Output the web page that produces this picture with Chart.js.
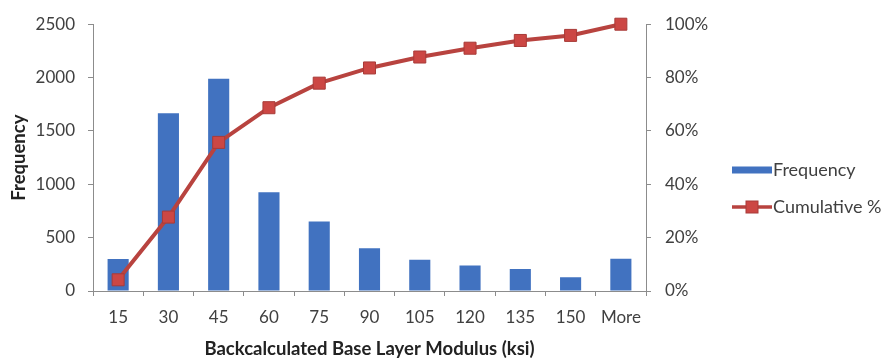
<!DOCTYPE html>
<html>
<head>
<meta charset="utf-8">
<script src="https://cdn.jsdelivr.net/npm/chart.js@4/dist/chart.umd.min.js"></script>
<style>
  html, body { margin: 0; padding: 0; background: #fff; }
  #wrap { width: 888px; height: 362px; position: relative; }
</style>
</head>
<body>
<div id="wrap"><canvas id="chart"></canvas></div>
<script>
// Histogram bins (ksi) and counts
const categories = ['15', '30', '45', '60', '75', '90', '105', '120', '135', '150', 'More'];
const frequency = [300, 1665, 1990, 925, 652, 401, 293, 238, 205, 130, 302];
// Cumulative share of observations, as a fraction
const cumulative = [0.042, 0.277, 0.557, 0.687, 0.779, 0.836, 0.877, 0.910, 0.939, 0.958, 1.0];
// Axis ticks
const freqTicks = [0, 500, 1000, 1500, 2000, 2500];
const pctTicks = [0, 0.2, 0.4, 0.6, 0.8, 1.0];

const FONT = 'Lato, "Open Sans", sans-serif';
const TEXT = '#404040';
const AXIS = '#8c8c8c';
const BAR = '#4172c0';
const LINE = '#b8433f';
const MARK = '#cc4744';
const MARK_EDGE = '#a83b38';

// Legend on the right-hand side: a bar swatch and a line-with-marker swatch
const sideLegend = {
  id: 'sideLegend',
  afterDraw(chart) {
    const ctx = chart.ctx;
    const x0 = chart.chartArea.right + 86;
    const sw = 40;
    ctx.save();
    ctx.font = '18px ' + FONT;
    ctx.textBaseline = 'middle';
    // Frequency
    let y = 170;
    ctx.fillStyle = BAR;
    ctx.fillRect(x0, y - 3.5, sw, 7);
    ctx.fillStyle = TEXT;
    ctx.fillText(chart.data.datasets[0].label, x0 + sw + 1, y);
    // Cumulative %
    y = 207;
    ctx.strokeStyle = LINE;
    ctx.lineWidth = 3.5;
    ctx.beginPath();
    ctx.moveTo(x0, y);
    ctx.lineTo(x0 + sw, y);
    ctx.stroke();
    ctx.fillStyle = MARK;
    ctx.strokeStyle = MARK_EDGE;
    ctx.lineWidth = 1;
    ctx.fillRect(x0 + sw / 2 - 6, y - 6, 12, 12);
    ctx.strokeRect(x0 + sw / 2 - 6, y - 6, 12, 12);
    ctx.fillStyle = TEXT;
    ctx.fillText(chart.data.datasets[1].label, x0 + sw + 1, y);
    ctx.restore();
  }
};

new Chart(document.getElementById('chart'), {
  data: {
    labels: categories,
    datasets: [
      {
        type: 'bar',
        label: 'Frequency',
        data: frequency,
        backgroundColor: BAR,
        borderWidth: 0,
        barPercentage: 0.42,
        categoryPercentage: 1.0,
        yAxisID: 'y',
        order: 2
      },
      {
        type: 'line',
        label: 'Cumulative %',
        data: cumulative,
        borderColor: LINE,
        borderWidth: 4,
        pointStyle: 'rect',
        pointRadius: 8.5,
        pointBackgroundColor: MARK,
        pointBorderColor: MARK_EDGE,
        pointBorderWidth: 1,
        tension: 0,
        clip: false,
        yAxisID: 'y1',
        order: 1
      }
    ]
  },
  options: {
    responsive: true,
    maintainAspectRatio: false,
    animation: false,
    events: [],
    layout: { padding: { top: 15, right: 160, bottom: 0, left: 0 } },
    plugins: {
      legend: { display: false },
      tooltip: { enabled: false }
    },
    scales: {
      x: {
        type: 'category',
        offset: true,
        grid: { offset: true, drawOnChartArea: false, drawTicks: true, tickLength: 5, color: AXIS },
        border: { display: true, color: AXIS, width: 1 },
        ticks: { color: TEXT, font: { family: FONT, size: 17 }, padding: 11, maxRotation: 0, autoSkip: false },
        title: {
          display: true,
          text: 'Backcalculated Base Layer Modulus (ksi)',
          color: '#222',
          font: { family: FONT, size: 18.5, weight: 'bold' },
          padding: { top: 0, bottom: 2 }
        },
        afterFit(scale) { scale.height = 71; }
      },
      y: {
        type: 'linear',
        position: 'left',
        min: 0,
        max: 2500,
        afterBuildTicks(scale) { scale.ticks = freqTicks.map(v => ({ value: v })); },
        grid: { drawOnChartArea: false, drawTicks: true, tickLength: 5, color: AXIS },
        border: { display: true, color: AXIS, width: 1 },
        ticks: { color: TEXT, font: { family: FONT, size: 17 }, padding: 13, callback: v => String(v) },
        title: {
          display: true,
          text: 'Frequency',
          color: '#222',
          font: { family: FONT, size: 18.5, weight: 'bold' },
          padding: { top: 8, bottom: 0 }
        },
        afterFit(scale) { scale.width = 93; }
      },
      y1: {
        type: 'linear',
        position: 'right',
        min: 0,
        max: 1,
        afterBuildTicks(scale) { scale.ticks = pctTicks.map(v => ({ value: v })); },
        grid: { drawOnChartArea: false, drawTicks: true, tickLength: 5, color: AXIS },
        border: { display: true, color: AXIS, width: 1 },
        ticks: {
          color: TEXT,
          font: { family: FONT, size: 17 },
          padding: 14,
          callback: v => Math.round(v * 100) + '%'
        },
        afterFit(scale) { scale.width = 82; }
      }
    }
  },
  plugins: [sideLegend]
});
</script>
</body>
</html>
